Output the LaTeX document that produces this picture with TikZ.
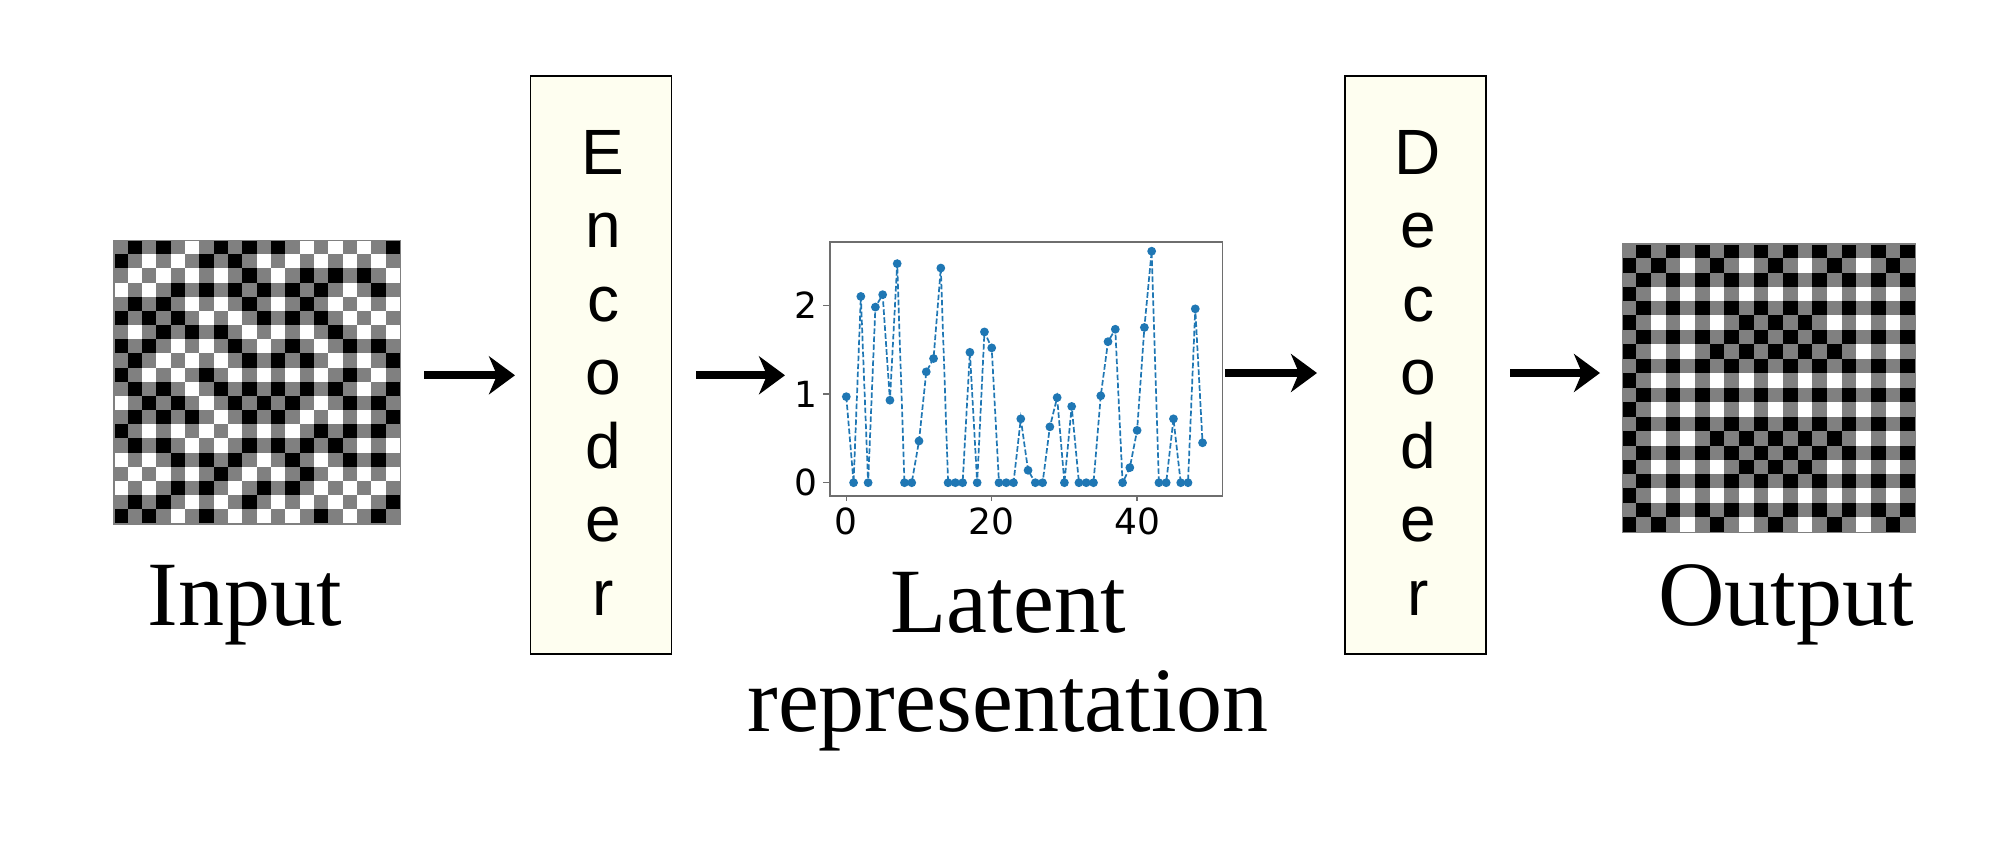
\documentclass[tikz,border=0pt]{standalone}
\usepackage{fontspec}
\setmainfont{Liberation Serif}
\newfontfamily\arialfont{Liberation Sans}
\newfontfamily\dejafont{DejaVu Sans}
\usetikzlibrary{arrows.meta}
\definecolor{cellgray}{RGB}{128,128,128}
\definecolor{boxfill}{RGB}{254,254,240}
\definecolor{mplblue}{HTML}{1F77B4}
\definecolor{framegray}{RGB}{110,110,110}
\makeatletter
% #1 x0, #2 y0, #3 cell w, #4 cell h, #5 row index, #6 string of b/w/g
\newcommand\cellrow[6]{%
  \def\cr@x{0}%
  \@tfor\cr@c:=#6\do{%
    \if b\cr@c \def\cr@col{black}\else\if w\cr@c \def\cr@col{white}\else\def\cr@col{cellgray}\fi\fi
    \fill[fill=\cr@col] ({#1+\cr@x*#3},{#2+#5*#4}) rectangle ++({#3+0.4},{#4+0.4});
    \pgfmathtruncatemacro\cr@x{\cr@x+1}%
  }%
}
\makeatother
\newcommand\inrow[2]{\cellrow{113.3}{240}{14.33}{14.17}{#1}{#2}}
\newcommand\outrow[2]{\cellrow{1621.7}{243.3}{14.67}{14.42}{#1}{#2}}
\begin{document}
\begin{tikzpicture}[x=0.5pt,y=-0.5pt,
  gridframe/.style={draw=cellgray, line width=0.6pt, inner sep=0pt, anchor=north west},
  coderbox/.style={draw=black, fill=boxfill, line width=0.65pt, inner sep=0pt, minimum width=70.5pt, minimum height=289pt},
  codertext/.style={font=\arialfont\fontsize{32}{36.75}\selectfont, align=center, inner sep=0pt},
  biglabel/.style={font=\fontsize{46}{49.5}\selectfont, inner sep=0pt},
  flowarrow/.style={line width=4pt, -{Stealth[length=13pt,width=19pt,inset=4pt]}},
  ticklabel/.style={font=\dejafont\fontsize{18}{20}\selectfont, inner sep=0pt},
  tickmark/.style={draw=framegray, line width=0.7pt}]
\useasboundingbox (0,0) rectangle (1995,867);
\fill[white] (0,0) rectangle (1995,867);

% ---------- input grid ----------
\inrow{0}{gbgbgwgbgbgbgwgwgwgb}
\inrow{1}{bgwgwgbgbgwgwgwgwgwg}
\inrow{2}{gwgwgwgwgbgwgbgbgbgw}
\inrow{3}{wgwgbgbgbgbgbgbgwgbg}
\inrow{4}{gbgbgwgwgbgwgbgwgwgw}
\inrow{5}{bgbgbgwgwgbgbgbgwgwg}
\inrow{6}{gwgbgbgbgwgwgwgbgwgw}
\inrow{7}{bgbgwgwgbgwgbgwgbgbg}
\inrow{8}{gbgwgwgwgbgbgbgwgwgb}
\inrow{9}{bgwgwgbgwgwgwgwgbgwg}
\inrow{10}{gbgbgwgbgbgbgbgbgwgb}
\inrow{11}{wgbgbgwgbgbgbgwgbgbg}
\inrow{12}{gbgbgbgwgbgbgwgwgwgb}
\inrow{13}{bgwgwgwgwgwgwgbgbgbg}
\inrow{14}{gbgbgwgwgbgbgbgbgwgw}
\inrow{15}{wgwgbgbgbgwgbgwgbgbg}
\inrow{16}{gwgwgwgbgwgwgbgwgwgw}
\inrow{17}{wgwgbgbgwgbgbgwgwgwg}
\inrow{18}{gbgbgwgwgbgwgwgwgwgb}
\inrow{19}{bgbgwgbgwgwgwgbgwgbg}
\node[gridframe, minimum width=143.35pt, minimum height=141.65pt] (input) at (113.3,240) {};

% ---------- output grid ----------
\foreach \r in {0,2,...,18} {\outrow{\r}{gbgbgbgbgbgbgbgbgbgb}}
\outrow{1}{bgbgwgbgwgbgwgbgwgbg}
\outrow{3}{bgwgwgwgwgwgwgwgwgwg}
\outrow{5}{bgwgwgwgbgbgbgwgwgwg}
\outrow{7}{bgwgwgbgbgbgbgbgwgwg}
\outrow{9}{bgwgwgwgwgwgwgwgwgwg}
\outrow{11}{bgwgwgwgwgwgwgwgwgwg}
\outrow{13}{bgwgwgbgbgbgbgbgwgwg}
\outrow{15}{bgwgwgwgbgbgbgwgwgwg}
\outrow{17}{bgwgwgwgwgwgwgwgwgwg}
\outrow{19}{bgbgwgbgwgbgwgbgwgbg}
\node[gridframe, minimum width=146.65pt, minimum height=144.2pt] (output) at (1621.7,243.3) {};

% ---------- encoder / decoder ----------
\node[coderbox] (enc) at (601.2,365) {};
\node[codertext] (enctext) at (603,372.5) {E\\n\\c\\o\\d\\e\\r};
\node[coderbox] (dec) at (1415.4,365) {};
\node[codertext] (dectext) at (1418,372.5) {D\\e\\c\\o\\d\\e\\r};

% ---------- latent plot ----------
\node[draw=framegray, line width=0.8pt, inner sep=0pt, anchor=north west,
      minimum width=196.35pt, minimum height=127pt] (plot) at (829,241) {};
\begin{scope}[shift={(846.3,482.7)}, x=3.635pt, y=44.35pt]
\draw[mplblue, line width=0.85pt, dash pattern=on 2.8pt off 1.2pt] plot coordinates {
(0,0.97) (1,0) (2,2.10) (3,0) (4,1.98) (5,2.12) (6,0.93) (7,2.47) (8,0) (9,0)
(10,0.47) (11,1.25) (12,1.40) (13,2.42) (14,0) (15,0) (16,0) (17,1.47) (18,0) (19,1.70)
(20,1.52) (21,0) (22,0) (23,0) (24,0.72) (25,0.14) (26,0) (27,0) (28,0.63) (29,0.96)
(30,0) (31,0.86) (32,0) (33,0) (34,0) (35,0.98) (36,1.59) (37,1.73) (38,0) (39,0.17)
(40,0.59) (41,1.75) (42,2.61) (43,0) (44,0) (45,0.72) (46,0) (47,0) (48,1.96) (49,0.45)};
\foreach \px/\py in {0/0.97,1/0,2/2.10,3/0,4/1.98,5/2.12,6/0.93,7/2.47,8/0,9/0,
10/0.47,11/1.25,12/1.40,13/2.42,14/0,15/0,16/0,17/1.47,18/0,19/1.70,
20/1.52,21/0,22/0,23/0,24/0.72,25/0.14,26/0,27/0,28/0.63,29/0.96,
30/0,31/0.86,32/0,33/0,34/0,35/0.98,36/1.59,37/1.73,38/0,39/0.17,
40/0.59,41/1.75,42/2.61,43/0,44/0,45/0.72,46/0,47/0,48/1.96,49/0.45}
  \fill[mplblue] (\px,\py) circle (2.2pt);
\end{scope}
% ticks
\foreach \ty in {482.7,394.0,305.3} \draw[tickmark] (829,\ty) -- ++(-6,0);
\foreach \tx in {846.3,991.7,1137.1} \draw[tickmark] (\tx,495) -- ++(0,6);
\node[ticklabel, anchor=east] (yt0) at (818,482.7) {0};
\node[ticklabel, anchor=east] (yt1) at (818,394.0) {1};
\node[ticklabel, anchor=east] (yt2) at (818,305.3) {2};
\node[ticklabel, anchor=north] (xt0) at (846.3,507) {0};
\node[ticklabel, anchor=north] (xt20) at (991.7,507) {20};
\node[ticklabel, anchor=north] (xt40) at (1137.1,507) {40};

% ---------- labels ----------
\node[biglabel, anchor=base] (inlabel) at (245,625) {Input};
\node[biglabel, anchor=base] (outlabel) at (1786,625) {Output};
\node[biglabel, align=center, anchor=north] (latlabel) at (1008,572) {Latent\\representation};

% ---------- arrows ----------
\coordinate (a1s) at (424,375.3);  \coordinate (a1e) at (515,375.3);
\coordinate (a2s) at (696,375.3);  \coordinate (a2e) at (785,375.3);
\coordinate (a3s) at (1225,373);   \coordinate (a3e) at (1317,373);
\coordinate (a4s) at (1510,373);   \coordinate (a4e) at (1600,373);
\draw[flowarrow] (a1s) -- (a1e);
\draw[flowarrow] (a2s) -- (a2e);
\draw[flowarrow] (a3s) -- (a3e);
\draw[flowarrow] (a4s) -- (a4e);
\end{tikzpicture}
\end{document}
